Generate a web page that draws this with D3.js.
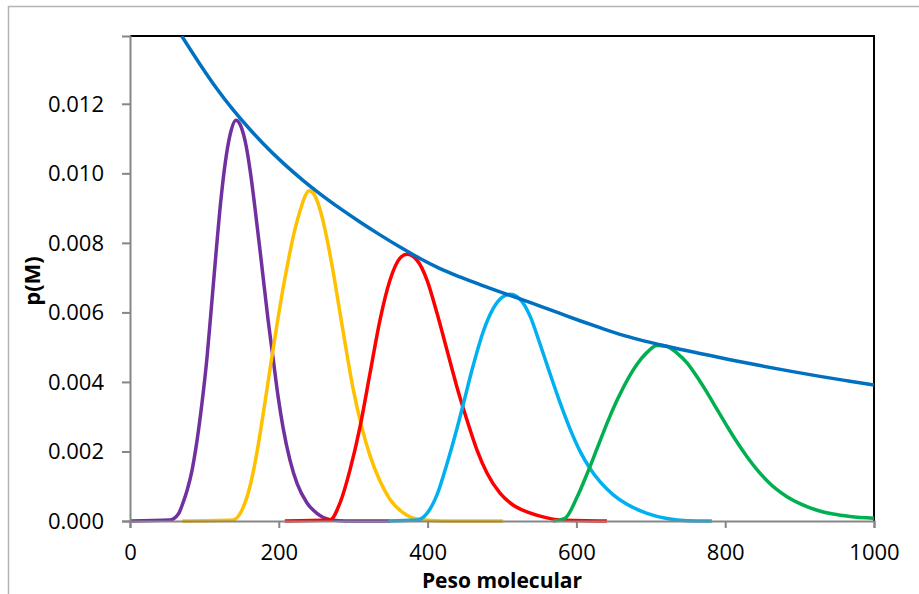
<!DOCTYPE html>
<html>
<head>
<meta charset="utf-8">
<script src="https://cdn.jsdelivr.net/npm/d3@7"></script>
<style>
  body { margin: 0; background: #fff; }
  svg { display: block; font-family: "Open Sans", "Noto Sans", sans-serif; }
</style>
</head>
<body>
<div id="chart"></div>
<script>
// values: [peso molecular, p(M)]
let envelope = [[69.5,0.01395],[94,0.01314],[116.5,0.01244],[138.4,0.01183],[161.3,0.01126],[178.8,0.01086],
  [205.6,0.0103],[232.5,0.0098],[255.4,0.00941],[282.3,0.00899],[309.1,0.0086],[336,0.00823],[362.9,0.00788],
  [389.8,0.00755],[416.7,0.00726],[443.5,0.00702],[470.4,0.0068],[497.3,0.00659],[524.2,0.00639],[551.1,0.00618],
  [578,0.00597],[604.8,0.00576],[631.7,0.00556],[658.6,0.00537],[685.5,0.00521],[712.4,0.00507],[739.2,0.00494],
  [766.1,0.00482],[806.5,0.00464],[846.8,0.00447],[887.1,0.00431],[927.4,0.00416],[967.7,0.00402],[1000,0.00391]]

let purple = [[0,0],[53.8,0.00003],[65,0.0002],[71.2,0.00052],[77,0.0009],[83.3,0.00145],[90,0.0023],[96.8,0.0034],
  [103.5,0.0047],[110,0.0063],[116,0.0078],[122,0.0092],[128,0.0103],[134.4,0.0111],[142.5,0.01153],[150,0.0113],
  [156,0.0108],[162,0.01],[168,0.009],[177.4,0.0073],[185.5,0.0058],[192.2,0.0047],[198.9,0.0036],[205.6,0.0027],
  [215,0.00175],[224.5,0.00108],[237.9,0.00052],[251.3,0.00022],[268.8,0.00004],[290,0],[350,0]]

let yellow = [[70,0],[138.4,0.00003],[151.9,0.00038],[161.3,0.001],[170.7,0.00198],[178.8,0.00305],[188.2,0.00437],
  [197.6,0.00566],[205,0.00661],[213,0.00752],[221,0.00833],[229,0.00895],[235,0.00933],[240.6,0.0095],[247,0.00941],
  [253,0.00912],[260,0.00858],[267,0.00787],[274.2,0.00703],[282.3,0.00598],[291.7,0.00478],[299.7,0.00382],
  [311.8,0.00268],[322.6,0.00188],[336,0.00115],[349.5,0.00062],[366.9,0.00024],[389.8,0.00004],[420,0],[501,0]]

let red = [[208,0],[268.8,0.00003],[282.3,0.00052],[295.7,0.00147],[309.1,0.0027],[322.6,0.00425],[336,0.00578],
  [349.5,0.00693],[362.9,0.00756],[372.3,0.00767],[385.8,0.0075],[399.2,0.00693],[412.6,0.00598],[426.1,0.00491],
  [439.5,0.00385],[453,0.0029],[466.4,0.00204],[479.8,0.00138],[497.3,0.0008],[514.8,0.00046],[533.6,0.00026],
  [551.1,0.00014],[578,0.00003],[641,0]]

let cyan = [[347,0],[385.8,0.00003],[399.2,0.00022],[412.6,0.00075],[426.1,0.00165],[439.5,0.00266],[447.6,0.00333],
  [461,0.00445],[474.5,0.00543],[487.9,0.0061],[500,0.00643],[510.8,0.00652],[524.2,0.00638],[537.6,0.0059],
  [551.1,0.00509],[564.5,0.00424],[577.9,0.00341],[591.4,0.00265],[604.8,0.00201],[618.3,0.00151],[631.7,0.00113],
  [649.2,0.00076],[668,0.00048],[694.9,0.00022],[721.8,0.00007],[748.7,0.00001],[782,0]]

let green = [[568.5,0],[584.7,0.00008],[600.8,0.00068],[614.2,0.00135],[627.7,0.00208],[641.1,0.00281],[654.6,0.00347],
  [668,0.00404],[681.5,0.00451],[694.9,0.00485],[708.3,0.00505],[721.8,0.00502],[735.2,0.00483],[748.7,0.00455],
  [762.1,0.00415],[775.5,0.0037],[789,0.00321],[802.4,0.00273],[815.8,0.00227],[829.3,0.00185],[842.7,0.00148],
  [856.2,0.00116],[869.6,0.0009],[883,0.0007],[900.5,0.0005],[923.4,0.00031],[944.9,0.0002],[967.7,0.00013],[1000,0.00008]]

let xTicks = [0, 200, 400, 600, 800, 1000]
let yTicks = [0, 0.002, 0.004, 0.006, 0.008, 0.010, 0.012]

// draw order: peaks first, envelope on top
let series = [
  {data: purple, color: '#7030A0'},
  {data: yellow, color: '#FFC000'},
  {data: red, color: '#FF0000'},
  {data: cyan, color: '#00B0F0'},
  {data: green, color: '#00B050'},
  {data: envelope, color: '#0070C0'}
]

let width = 919,
    height = 594,
    margin = {top: 36, right: 45, bottom: 73, left: 130}

let svg = d3.select('#chart')
  .append('svg')
  .attr('width', width)
  .attr('height', height)

// outer chart frame
svg.append('rect')
  .attr('x', 8.5).attr('y', 6.5)
  .attr('width', 930).attr('height', 600)
  .attr('fill', 'none')
  .attr('stroke', '#b4b4b4')
  .attr('stroke-width', 1.5)

let x = d3.scaleLinear()
  .domain([0, 1000])
  .range([margin.left, width - margin.right])

let y = d3.scaleLinear()
  .domain([0, 0.01395])
  .range([height - margin.bottom, margin.top])

svg.append('clipPath').attr('id', 'plot')
  .append('rect')
  .attr('x', x(0)).attr('y', y.range()[1])
  .attr('width', x(1000) - x(0) + 2).attr('height', y.range()[0] - y.range()[1] + 3)

// top and right borders of plot area
svg.append('path')
  .attr('d', 'M' + x(0) + ',' + y.range()[1] + 'H' + x(1000) + 'V' + y(0))
  .attr('fill', 'none')
  .attr('stroke', '#000')
  .attr('stroke-width', 2)

let line = d3.line()
  .x(function(d){ return x(d[0]) })
  .y(function(d){ return y(d[1]) })
  .curve(d3.curveMonotoneX)

svg.append('g')
  .attr('clip-path', 'url(#plot)')
  .selectAll('path')
  .data(series)
  .enter()
  .append('path')
  .attr('d', function(d){ return line(d.data) })
  .attr('fill', 'none')
  .attr('stroke', function(d){ return d.color })
  .attr('stroke-width', 3.5)
  .attr('stroke-linejoin', 'round')

// axes
let xAxis = svg.append('g')
  .attr('transform', 'translate(0,' + y(0) + ')')
  .call(d3.axisBottom(x).tickValues(xTicks).tickSize(7).tickPadding(16).tickFormat(d3.format('d')))

let yAxis = svg.append('g')
  .attr('transform', 'translate(' + x(0) + ',0)')
  .call(d3.axisLeft(y).tickValues(yTicks).tickSize(8).tickPadding(18).tickFormat(d3.format('.3f')))

svg.selectAll('.domain, .tick line')
  .attr('stroke', '#868686')
  .attr('stroke-width', 2)

svg.selectAll('.tick text')
  .attr('fill', '#000')
  .style('font-size', '22px')
  .style('font-family', '"Open Sans", sans-serif')

yAxis.selectAll('.tick text').attr('dy', '0.34em')

// axis titles
svg.append('text')
  .attr('x', x(500))
  .attr('y', 588)
  .attr('text-anchor', 'middle')
  .style('font-weight', 'bold')
  .style('font-size', '21px')
  .text('Peso molecular')

svg.append('text')
  .attr('transform', 'translate(40,' + 281 + ') rotate(-90)')
  .attr('text-anchor', 'middle')
  .style('font-weight', 'bold')
  .style('font-size', '22px')
  .text('p(M)')
</script>
</body>
</html>
